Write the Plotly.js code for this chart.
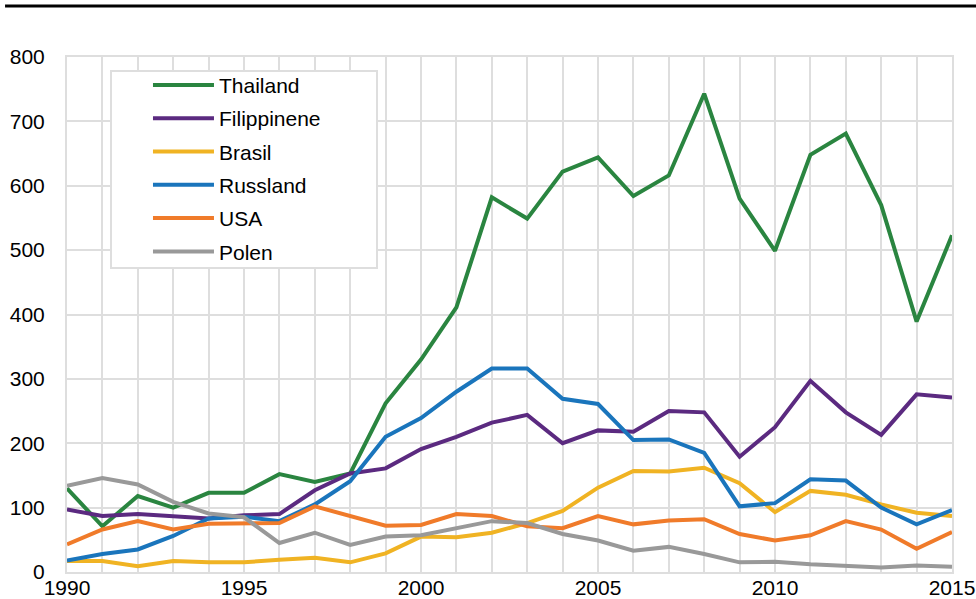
<!DOCTYPE html>
<html>
<head>
<meta charset="utf-8">
<script src="https://cdn.plot.ly/plotly-3.0.1.min.js"></script>
<style>
  html, body { margin: 0; padding: 0; background: #ffffff; }
  #chart { width: 976px; height: 599px; }
</style>
</head>
<body>
<div id="chart"></div>
<script>
var years = [1990,1991,1992,1993,1994,1995,1996,1997,1998,1999,2000,2001,2002,2003,2004,2005,2006,2007,2008,2009,2010,2011,2012,2013,2014,2015];
var thailand    = [130,71,118,100,123,123,152,140,153,262,330,411,582,549,622,644,584,616,743,580,499,648,681,570,389,523];
var filippinene = [97,87,90,86,83,88,90,127,153,161,191,210,232,244,200,220,218,250,248,179,225,297,248,213,276,271];
var brasil      = [17,17,9,17,15,15,19,22,15,29,55,54,61,76,95,131,157,156,162,138,93,126,120,105,92,87];
var russland    = [18,28,35,56,83,86,79,105,141,210,239,280,316,316,269,261,205,206,185,102,107,144,142,100,74,96];
var usa         = [43,66,79,66,75,76,76,102,87,72,73,90,87,71,68,87,74,80,82,59,49,57,79,66,36,62];
var polen       = [134,146,136,109,91,85,45,61,42,55,57,68,79,76,59,49,33,39,28,15,16,12,10,7,10,8];

var seriesNames = ["Thailand","Filippinene","Brasil","Russland","USA","Polen"];
var seriesData = [thailand, filippinene, brasil, russland, usa, polen];
var seriesColors = ["#2a8540","#5b2a80","#f0b323","#1a75bc","#f07b2a","#999999"];

var xTickVals = [1990,1995,2000,2005,2010,2015];
var xTickText = ["1990","1995","2000","2005","2010","2015"];

var traces = seriesNames.map(function(name, i){
  return {
    type: "scatter",
    mode: "lines",
    name: name,
    x: years,
    y: seriesData[i],
    legendgroup: "g" + i,
    line: {color: seriesColors[i], width: 4}
  };
});

var gridColor = "#dedede";
var layout = {
  width: 976,
  height: 599,
  margin: {l: 67, r: 24, t: 57, b: 27},
  paper_bgcolor: "#ffffff",
  plot_bgcolor: "#ffffff",
  font: {family: "Liberation Sans, Arial, sans-serif", size: 21, color: "#000000"},
  showlegend: true,
  legend: {
    x: 0.0915, y: 0.985, xanchor: "left", yanchor: "top",
    bgcolor: "rgba(0,0,0,0)", borderwidth: 0,
    font: {family: "Liberation Sans, Arial, sans-serif", size: 21, color: "#000000"},
    tracegroupgap: 3,
    itemwidth: 61
  },
  xaxis: {
    range: [1990, 2015],
    tickmode: "array",
    tickvals: xTickVals,
    ticktext: xTickText,
    ticks: "",
    showgrid: true,
    gridcolor: gridColor,
    gridwidth: 2,
    minor: {dtick: 1, showgrid: true, gridcolor: gridColor, gridwidth: 2},
    zeroline: false,
    showline: true,
    linecolor: gridColor,
    linewidth: 2,
    mirror: true,
    ticklabelstandoff: -4,
    fixedrange: true
  },
  yaxis: {
    range: [0, 800],
    dtick: 100,
    ticks: "",
    showgrid: true,
    gridcolor: gridColor,
    gridwidth: 2,
    zeroline: false,
    showline: true,
    linecolor: gridColor,
    linewidth: 2,
    mirror: true,
    ticklabelstandoff: 16,
    fixedrange: true
  },
  shapes: [{
    type: "line", xref: "paper", yref: "paper",
    x0: -0.070, x1: 1.03, y0: 1.099, y1: 1.099,
    line: {color: "#000000", width: 3}
  }, {
    type: "rect", xref: "paper", yref: "paper", layer: "above",
    x0: 0.0497, x1: 0.3503, y0: 0.5903, y1: 0.9728,
    fillcolor: "#ffffff",
    line: {color: gridColor, width: 2}
  }]
};

Plotly.newPlot("chart", traces, layout, {displayModeBar: false, staticPlot: true});
</script>
</body>
</html>
